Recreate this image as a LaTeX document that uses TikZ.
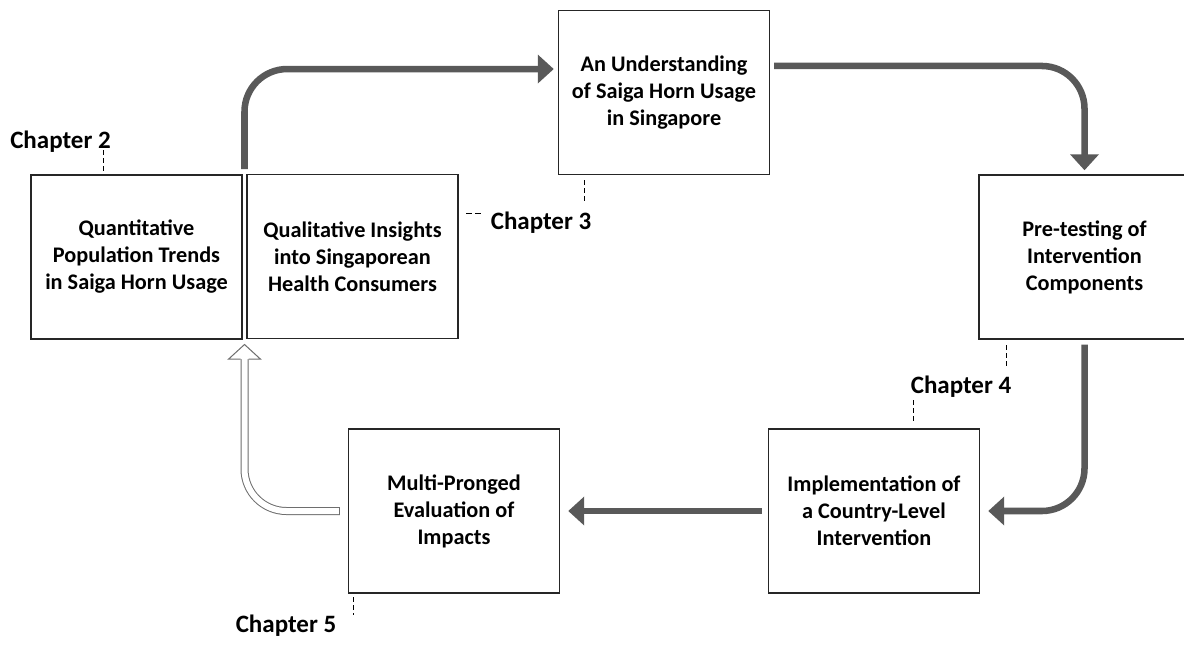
\documentclass[tikz,border=0pt]{standalone}
\usepackage{fontspec}
\setmainfont{Carlito}
\usetikzlibrary{arrows.meta,calc}
\definecolor{arrgray}{HTML}{595959}
\definecolor{hollowgray}{HTML}{6E6E6E}
\definecolor{boxline}{HTML}{262626}
\begin{document}
\begin{tikzpicture}[x=0.75pt,y=-0.75pt,
  box/.style={draw=boxline, line width=1.1pt, minimum width=158.25pt, minimum height=123pt,
    inner sep=0pt, align=center, font=\bfseries\fontsize{16.7}{20.25}\selectfont},
  chap/.style={font=\bfseries\fontsize{18.75}{22}\selectfont, inner sep=0pt, anchor=base},
  flow/.style={draw=arrgray, line width=4.9pt, rounded corners=32pt,
    -{Triangle[length=12pt,width=21pt]}},
  chdash/.style={draw=black, line width=0.75pt, dash pattern=on 3.5pt off 2.5pt},
  chdashh/.style={draw=black, line width=0.75pt, dash pattern=on 4.5pt off 2.5pt}]
\useasboundingbox (0,0) rectangle (1184,644);
\fill[white] (0,0) rectangle (1184,644);

% boxes
\node[box] (A) at (136.5,257) {Quantitative\\Population Trends\\in Saiga Horn Usage};
\node[box] (B) at (352.5,256.5) {Qualitative Insights\\into Singaporean\\Health Consumers};
\node[box] (C) at (664,92.5) {An Understanding\\of Saiga Horn Usage\\in Singapore};
\node[box] (D) at (1084.5,257) {Pre-testing of\\Intervention\\Components};
\node[box] (E) at (874,511) {Implementation of\\a Country-Level\\Intervention};
\node[box] (F) at (454,511) {Multi-Pronged\\Evaluation of\\Impacts};

% chapter labels
\node[chap] (ch2) at (60.5,148) {Chapter 2};
\node[chap] (ch3) at (541,229) {Chapter 3};
\node[chap] (ch4) at (961,393) {Chapter 4};
\node[chap] (ch5) at (286,632) {Chapter 5};

% dashed leaders
\coordinate (d2a) at (103,150);  \coordinate (d2b) at (103,172);
\coordinate (d3a) at (584,180);  \coordinate (d3b) at (584,202);
\coordinate (d3c) at (466,213);  \coordinate (d3d) at (481,213);
\coordinate (d4a) at (1006,345); \coordinate (d4b) at (1006,366);
\coordinate (d4c) at (913,400);  \coordinate (d4d) at (913,423);
\coordinate (d5a) at (353,597);  \coordinate (d5b) at (353,615);
\draw[chdash] (d2a) -- (d2b);
\draw[chdash] (d3a) -- (d3b);
\draw[chdashh] (d3c) -- (d3d);
\draw[chdash] (d4a) -- (d4b);
\draw[chdash] (d4c) -- (d4d);
\draw[chdash] (d5a) -- (d5b);

% solid flow arrows
\coordinate (gtop) at ($(A.north east)!0.5!(B.north west)$);
\draw[flow] ([yshift=3.75pt]gtop) |- ([xshift=-3pt,yshift=17.6pt]C.west);
\draw[flow] ([xshift=3pt,yshift=19.9pt]C.east) -| ([yshift=3pt]D.north);
\draw[flow] ([yshift=-3.75pt]D.south) |- ([xshift=6pt]E.east);
\draw[flow] ([xshift=-4.5pt]E.west) -- ([xshift=6pt]F.east);

% hollow return arrow
\coordinate (gbot) at ($(A.south east)!0.5!(B.south west)$);
\coordinate (htip) at ([yshift=-3.75pt]gbot);
\coordinate (hbase) at ([yshift=-11pt]htip);
\draw[hollowgray, line width=6pt, rounded corners=31.5pt] ([xshift=-6pt]F.west) -| (hbase);
\draw[white, line width=4.5pt, rounded corners=31.5pt] ([xshift=-6.75pt]F.west) -| (hbase);
\fill[white] ([xshift=-12pt]hbase) -- (htip) -- ([xshift=12pt]hbase) -- cycle;
\draw[hollowgray, line width=0.75pt, line join=miter]
  ([xshift=-3pt]hbase) -- ([xshift=-12pt]hbase) -- (htip) -- ([xshift=12pt]hbase) -- ([xshift=3pt]hbase);
\end{tikzpicture}
\end{document}
